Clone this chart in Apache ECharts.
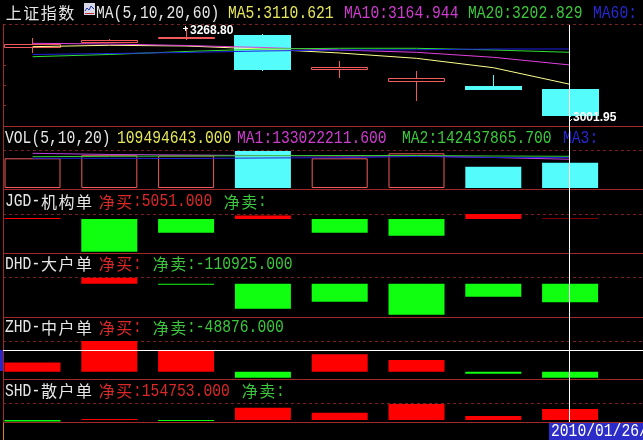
<!DOCTYPE html>
<html><head><meta charset="utf-8">
<script src="https://cdn.jsdelivr.net/npm/echarts/dist/echarts.min.js"></script>
<style>html,body{margin:0;padding:0;background:#000;}#c{width:643px;height:440px;}</style>
</head><body><div id="c"></div>
<script>
// ---- data ----
const categories = ['2010/01/15','2010/01/18','2010/01/19','2010/01/20','2010/01/21','2010/01/22','2010/01/25','2010/01/26'];
const priceOpen  = [3206.6, 3221.3, 3231.3, 3243.9, 3142.1, 3106.9, 3094.3, 3086.4];
const priceClose = [3216.6, 3229.2, 3238.0, 3142.1, 3150.9, 3118.7, 3083.5, 3007.2];
const priceLow   = [3190.2, 3219.0, 3229.2, 3139.2, 3118.7, 3050.3, 3083.5, 3001.95];
const priceHigh  = [3234.2, 3232.1, 3268.8, 3246.8, 3167.6, 3138.3, 3126.6, 3086.4];
const ma5  = [3209.6, 3213.7, 3211.6, 3202.8, 3191.1, 3175.5, 3148.0, 3099.3];
const ma10 = [3219.5, 3217.5, 3213.1, 3207.2, 3199.9, 3193.1, 3178.5, 3155.9];
const ma20 = [3180.2, 3186.7, 3195.5, 3202.8, 3204.9, 3204.9, 3199.9, 3193.1];
const ma60 = [3186.7, 3189.6, 3192.6, 3197.0, 3199.9, 3200.5, 3202.8, 3202.8];
const volume  = [128.5e6, 141.9e6, 140.6e6, 160.1e6, 128.5e6, 150.1e6, 91.7e6, 109494643];
const volMa5  = [150.1e6, 145.0e6, 142.8e6, 140.6e6, 138.5e6, 138.5e6, 132.0e6, 124.2e6];
const volMa10 = [135.4e6, 137.2e6, 138.5e6, 139.8e6, 140.6e6, 140.6e6, 138.5e6, 137.2e6];
const volMa20 = [128.5e6, 128.5e6, 127.6e6, 129.8e6, 131.1e6, 136.3e6, 132.0e6, 132.0e6];
const jgd = [12000, -392400, -164400, 42000, -164400, -200400, 60000, 5051];
const dhd = [0, 36000, -6000, -150000, -108000, -186000, -78000, -110925];
const zhd = [76600, 252500, 171000, -48900, 144000, 95300, -16300, -48876];
const shd = [-21000, 14000, -14000, 173000, 103000, 225000, 56000, 154753];
const highLabel = '3268.80';
const lowLabel = '3001.95';
const dateLabel = '2010/01/26/二';

// ---- layout ----
const UP = '#F05A5A', DOWN = '#54FCFC', RED = '#FF0000', GREEN = '#10FF10';
const FRAME = '#A02828', DASH = '#7A2020';
const grids = [[25,101],[150,38],[214,39],[277,40],[340.7,38.3],[403,19]];
const yRanges = [[2977.0,3273.2],[0,164.4e6],[-408000,60000],[-199800,40200],[-59466,254155],[-28136,239156]];

const chart = echarts.init(document.getElementById('c'));

function renderCandle(params, api){
  const i = api.value(0), o = api.value(1), c = api.value(2), l = api.value(3), h = api.value(4);
  const cx = api.coord([i, o])[0];
  const yo = api.coord([i, o])[1], yc = api.coord([i, c])[1];
  const yl = api.coord([i, l])[1], yh = api.coord([i, h])[1];
  const left = Math.floor(cx - 28) + 0.5;
  const wx = Math.floor(cx) + 0.5;
  const top = Math.round(Math.min(yo, yc)), bot = Math.round(Math.max(yo, yc));
  const ch = [];
  if (c >= o) {
    ch.push({type:'line', shape:{x1:wx, y1:Math.round(yh), x2:wx, y2:top}, style:{stroke:UP, lineWidth:1}});
    ch.push({type:'line', shape:{x1:wx, y1:bot, x2:wx, y2:Math.round(yl)}, style:{stroke:UP, lineWidth:1}});
    ch.push({type:'rect', shape:{x:left, y:top + 0.5, width:56, height:Math.max(bot - top - 1, 1)}, style:{fill:'#000', stroke:UP, lineWidth:1}});
  } else {
    ch.push({type:'line', shape:{x1:wx, y1:Math.round(yh), x2:wx, y2:Math.round(yl)}, style:{stroke:DOWN, lineWidth:1}});
    ch.push({type:'rect', shape:{x:left - 0.5, y:top, width:57, height:Math.max(bot - top, 1)}, style:{fill:DOWN}});
  }
  return {type:'group', children:ch};
}

function maLine(data, color, k){
  return {type:'line', xAxisIndex:k, yAxisIndex:k, data:data.map((v,i)=>[i,v]), symbol:'none',
    lineStyle:{color:color, width:1}, z:5, silent:true, animation:false};
}
function flow(data, k){
  return {type:'bar', xAxisIndex:k, yAxisIndex:k, barWidth:56, animation:false,
    data:data.map((v,i)=>({value:[i,v], itemStyle:{color: v >= 0 ? RED : GREEN}}))};
}

// text helper: CJK full width 17.5px, latin half width 8.8px
function label(x, y, str, color){
  const out = []; let cx = x; let buf = '';
  const flush = () => {
    if (buf) {
      out.push({type:'text', x:cx, y:y, scaleX:0.815, z:50,
        style:{text:buf, fill:color, font:'18px "Liberation Mono"', textVerticalAlign:'middle', verticalAlign:'middle'}});
      cx += buf.length * 8.8; buf = '';
    }
  };
  for (const ch of str) {
    if (ch.charCodeAt(0) > 255) {
      flush();
      out.push({type:'text', x:cx + 8.75, y:y, z:50,
        style:{text:ch, fill:color, font:'16px "Noto Sans CJK SC"', textAlign:'center', align:'center', textVerticalAlign:'middle', verticalAlign:'middle'}});
      cx += 17.5;
    } else buf += ch;
  }
  flush();
  return out;
}

const WHITE = '#E6E6E6', YEL = '#E6E65A', MAG = '#D03CD0', GRN = '#3CC83C', BLU = '#2828D2', TRED = '#DC2828';
let g = [];
// frame lines
[126,189,253,317,379,422].forEach(y => g.push({type:'line', z:1, shape:{x1:3, y1:y+0.5, x2:643, y2:y+0.5}, style:{stroke:FRAME, lineWidth:1}}));
[24,150,214,277,341,403].forEach(y => g.push({type:'line', z:1, shape:{x1:3, y1:y+0.5, x2:643, y2:y+0.5}, style:{stroke:DASH, lineWidth:1, lineDash:[3,3]}}));
g.push({type:'line', z:1, shape:{x1:3.5, y1:24, x2:3.5, y2:422}, style:{stroke:FRAME, lineWidth:1}});
g.push({type:'line', z:1, shape:{x1:3.5, y1:423, x2:3.5, y2:440}, style:{stroke:'#E08020', lineWidth:1}});
[45,65,85,105].forEach(y => g.push({type:'line', z:1, shape:{x1:3, y1:y+0.5, x2:6, y2:y+0.5}, style:{stroke:FRAME, lineWidth:1}}));
// icon
g.push({type:'rect', z:50, shape:{x:84, y:3, width:11, height:12}, style:{fill:'#D8D8E8'}});
g.push({type:'polyline', z:51, shape:{points:[[85,11],[87,8],[89,10],[91,6],[94,9]]}, style:{stroke:'#2030C0', lineWidth:1, fill:null}});
g.push({type:'line', z:51, shape:{x1:85, y1:13.5, x2:94, y2:13.5}, style:{stroke:'#C03030', lineWidth:1}});
// header texts
g = g.concat(label(5, 13, '上证指数', WHITE));
g = g.concat(label(96, 13, 'MA(5,10,20,60)', WHITE));
g = g.concat(label(228, 13, 'MA5:3110.621', YEL));
g = g.concat(label(344, 13, 'MA10:3164.944', MAG));
g = g.concat(label(468, 13, 'MA20:3202.829', GRN));
g = g.concat(label(593, 13, 'MA60:', BLU));
g = g.concat(label(5, 138.5, 'VOL(5,10,20)', WHITE));
g = g.concat(label(117, 138.5, '109494643.000', YEL));
g = g.concat(label(237, 138.5, 'MA1:133022211.600', MAG));
g = g.concat(label(402, 138.5, 'MA2:142437865.700', GRN));
g = g.concat(label(563, 138.5, 'MA3:', BLU));
g = g.concat(label(5, 201.5, 'JGD-机构单', WHITE));
g = g.concat(label(98, 201.5, '净买:5051.000', TRED));
g = g.concat(label(223, 201.5, '净卖:', GRN));
g = g.concat(label(5, 264, 'DHD-大户单', WHITE));
g = g.concat(label(98, 264, '净买:', TRED));
g = g.concat(label(152, 264, '净卖:-110925.000', GRN));
g = g.concat(label(5, 327.5, 'ZHD-中户单', WHITE));
g = g.concat(label(98, 327.5, '净买:', TRED));
g = g.concat(label(152, 327.5, '净卖:-48876.000', GRN));
g = g.concat(label(5, 391, 'SHD-散户单', WHITE));
g = g.concat(label(98, 391, '净买:154753.000', TRED));
g = g.concat(label(241, 391, '净卖:', GRN));
// high/low markers
g.push({type:'text', z:60, x:190, y:31, style:{text:highLabel, fill:'#FFFFFF', font:'bold 12px "Liberation Sans"', textVerticalAlign:'middle', verticalAlign:'middle'}});
g.push({type:'line', z:60, shape:{x1:183, y1:28.5, x2:188, y2:28.5}, style:{stroke:'#FFFFFF', lineWidth:1}});
g.push({type:'line', z:60, shape:{x1:185.5, y1:26, x2:185.5, y2:31}, style:{stroke:'#FFFFFF', lineWidth:1}});
g.push({type:'text', z:60, x:573, y:117.5, style:{text:lowLabel, fill:'#FFFFFF', font:'bold 12px "Liberation Sans"', textVerticalAlign:'middle', verticalAlign:'middle'}});
g.push({type:'line', z:60, shape:{x1:569, y1:122, x2:572, y2:119}, style:{stroke:'#FFFFFF', lineWidth:1}});
// crosshair
g.push({type:'line', z:70, shape:{x1:569.5, y1:25, x2:569.5, y2:422}, style:{stroke:'#FFFFFF', lineWidth:1}});
g.push({type:'line', z:70, shape:{x1:3, y1:350.5, x2:643, y2:350.5}, style:{stroke:'#FFFFFF', lineWidth:1}});
g.push({type:'rect', z:70, shape:{x:0, y:350, width:3, height:21}, style:{fill:'#2828C8'}});
// date label
g.push({type:'rect', z:70, shape:{x:549, y:423, width:94, height:17}, style:{fill:'#2C2CC8'}});
g = g.concat(label(551, 431.5, dateLabel, '#FFFFFF').map(e => (e.z = 71, e)));

const option = {
  backgroundColor:'#000',
  animation:false,
  grid: grids.map(gr => ({left:0, right:0, top:gr[0], height:gr[1]})),
  xAxis: grids.map((gr,k) => ({type:'value', gridIndex:k, min:-0.4232, max:7.9492, show:false})),
  yAxis: yRanges.map((r,k) => ({type:'value', gridIndex:k, min:r[0], max:r[1], show:false})),
  series: [
    {type:'custom', xAxisIndex:0, yAxisIndex:0, renderItem:renderCandle, clip:false, z:2,
      data: categories.map((c,i) => [i, priceOpen[i], priceClose[i], priceLow[i], priceHigh[i]]),
      encode:{x:0, y:[1,2,3,4]}},
    maLine(ma5, '#FFFF8C', 0),
    maLine(ma10, '#E040E0', 0),
    maLine(ma20, '#30E030', 0),
    maLine(ma60, '#2020E0', 0),
    {type:'bar', xAxisIndex:1, yAxisIndex:1, barWidth:56, z:2,
      data: volume.map((v,i) => ({value:[i,v], itemStyle: priceClose[i] >= priceOpen[i]
        ? {color:'#000', borderColor:UP, borderWidth:1} : {color:DOWN}}))},
    maLine(volMa5, '#C040E0', 1),
    maLine(volMa10, '#30D030', 1),
    maLine(volMa20, '#2020D0', 1),
    flow(jgd, 2), flow(dhd, 3), flow(zhd, 4), flow(shd, 5)
  ],
  graphic: {elements: g}
};
chart.setOption(option);
</script></body></html>
